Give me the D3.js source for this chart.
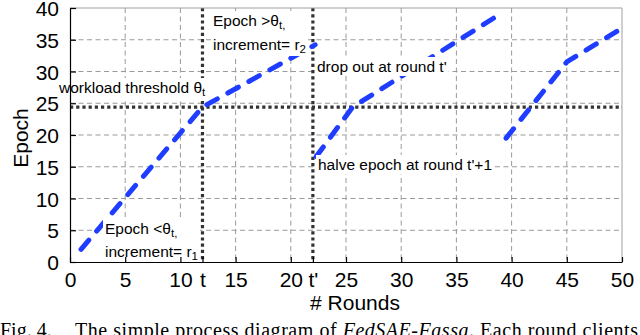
<!DOCTYPE html>
<html><head><meta charset="utf-8">
<script src="https://cdn.jsdelivr.net/npm/d3@7/dist/d3.min.js"></script>
<style>body{margin:0;background:#fff}svg{display:block}</style>
</head><body>
<svg id="c" width="640" height="335"></svg>
<script>
// ---- data ----
const xTickValues = [0, 5, 10, 12, 15, 20, 22, 25, 30, 35, 40, 45, 50];
const xTickLabels = ["0", "5", "10", "t", "15", "20", "t'", "25", "30", "35", "40", "45", "50"];
const xGridValues = [5, 10, 15, 20, 25, 30, 35, 40, 45];
const yTickValues = [0, 5, 10, 15, 20, 25, 30, 35, 40];
const yGridValues = [5, 10, 15, 20, 25, 30, 35];
const roundT = 12;          // t
const roundTprime = 22;     // t'
const threshold = 24.4;     // workload threshold θt
// blue dashed process curve, separate pieces (round, epoch)
const segBelowAbove = [[1, 2], [12, 24.4], [22.2, 34.2]];
const segAfterDrop1 = [[22.3, 16.6], [25.6, 24.4], [39.1, 39.2]];
const segAfterDrop2 = [[39.5, 19.5], [45, 31.5], [50, 36.8]];
const segments = [segBelowAbove, segAfterDrop1, segAfterDrop2];

// ---- layout ----
const svg = d3.select("#c");
const L = 70, R = 622, T = 8, B = 262;
const x = d3.scaleLinear().domain([0, 50]).range([L, R]);
const y = d3.scaleLinear().domain([0, 40]).range([B, T]);
const sans = "'Liberation Sans', Arial, Helvetica, sans-serif";

// grid
const g = svg.append("g");
g.selectAll(".gx").data(xGridValues).join("line")
  .attr("x1", d => x(d)).attr("x2", d => x(d)).attr("y1", T).attr("y2", B)
  .attr("stroke", "#9a9a9a").attr("stroke-width", 1).attr("stroke-dasharray", "5,3.5");
g.selectAll(".gy").data(yGridValues).join("line")
  .attr("x1", L).attr("x2", R).attr("y1", d => y(d)).attr("y2", d => y(d))
  .attr("stroke", "#9a9a9a").attr("stroke-width", 1).attr("stroke-dasharray", "5,3.5");

// dotted markers
const dot = {stroke: "#333", w: 3.2, da: "3.2,3"};
svg.append("line").attr("x1", L).attr("x2", R).attr("y1", y(threshold)).attr("y2", y(threshold))
  .attr("stroke", dot.stroke).attr("stroke-width", dot.w).attr("stroke-dasharray", dot.da);
[roundT, roundTprime].forEach(v => {
  svg.append("line").attr("x1", x(v)).attr("x2", x(v)).attr("y1", T).attr("y2", B)
    .attr("stroke", dot.stroke).attr("stroke-width", dot.w).attr("stroke-dasharray", dot.da);
});

// blue curve
const line = d3.line().x(d => x(d[0])).y(d => y(d[1]));
svg.selectAll(".seg").data(segments).join("path")
  .attr("d", line).attr("fill", "none").attr("stroke", "#1f3dff")
  .attr("stroke-width", 5).attr("stroke-linecap", "round").attr("stroke-linejoin", "round")
  .attr("stroke-dasharray", "12,12");

// annotations (with white background boxes)
function note(lines, x0, baselines) {
  const grp = svg.append("g");
  const rect = grp.append("rect").attr("fill", "#fff");
  lines.forEach((parts, i) => {
    const t = grp.append("text").attr("x", x0).attr("y", baselines[i])
      .attr("font-family", sans).attr("font-size", 15.5).attr("fill", "#000");
    parts.forEach(p => {
      if (typeof p === "string") t.append("tspan").text(p);
      else t.append("tspan").attr("baseline-shift", "-25%").attr("font-size", 11.5).text(p.sub);
    });
  });
  const bb = grp.node().getBBox();
  rect.attr("x", bb.x - 2).attr("y", bb.y - 1).attr("width", bb.width + 4).attr("height", bb.height + 2);
}
note([["Epoch >θ", {sub: "t,"}], ["increment= r", {sub: "2"}]], 213, [26, 50]);
note([["workload threshold θ", {sub: "t"}]], 59, [93]);
note([["drop out at round t'"]], 317, [72]);
note([["halve epoch at round t'+1"]], 318, [170]);
note([["Epoch <θ", {sub: "t,"}], ["increment= r", {sub: "1"}]], 105, [234, 257]);

// frame
svg.append("line").attr("x1", L).attr("x2", R).attr("y1", T).attr("y2", T).attr("stroke", "#a0a0a0");
svg.append("line").attr("x1", R).attr("x2", R).attr("y1", T).attr("y2", B).attr("stroke", "#a0a0a0");

// axes
const xAxis = d3.axisBottom(x).tickValues(xTickValues)
  .tickFormat((d, i) => xTickLabels[i]).tickSizeInner(-5).tickSizeOuter(0).tickPadding(13);
const yAxis = d3.axisLeft(y).tickValues(yTickValues).tickSizeInner(-6).tickSizeOuter(0).tickPadding(11);
const gx = svg.append("g").attr("transform", `translate(0,${B})`).call(xAxis);
const gy = svg.append("g").attr("transform", `translate(${L},0)`).call(yAxis);
[gx, gy].forEach(a => {
  a.select(".domain").attr("stroke", "#000").attr("stroke-width", 1.2);
  a.selectAll(".tick line").attr("stroke", "#000").attr("stroke-width", 1.2);
  a.selectAll(".tick text").attr("font-family", sans).attr("font-size", 21).attr("fill", "#000");
});
gx.selectAll(".tick text").attr("dy", "0.71em").attr("y", 10);
gy.selectAll(".tick text").attr("dy", "0.36em");

// axis titles
svg.append("text").attr("x", 355).attr("y", 310).attr("text-anchor", "middle")
  .attr("font-family", sans).attr("font-size", 21).text("# Rounds");
svg.append("text").attr("transform", "translate(28,138) rotate(-90)").attr("text-anchor", "middle")
  .attr("font-family", sans).attr("font-size", 21).text("Epoch");

// caption (cut off at the bottom edge, as in the source figure)
const serif = "'Liberation Serif', 'Times New Roman', serif";
svg.append("text").attr("x", 0).attr("y", 337).attr("font-family", serif).attr("font-size", 20).text("Fig. 4.");
const cap = svg.append("text").attr("x", 75).attr("y", 337).attr("font-family", serif).attr("font-size", 20)
  .attr("textLength", 563).attr("lengthAdjust", "spacing");
cap.append("tspan").text("The simple process diagram of ");
cap.append("tspan").attr("font-style", "italic").text("FedSAE-Fassa");
cap.append("tspan").text(". Each round clients");
</script>
</body></html>
